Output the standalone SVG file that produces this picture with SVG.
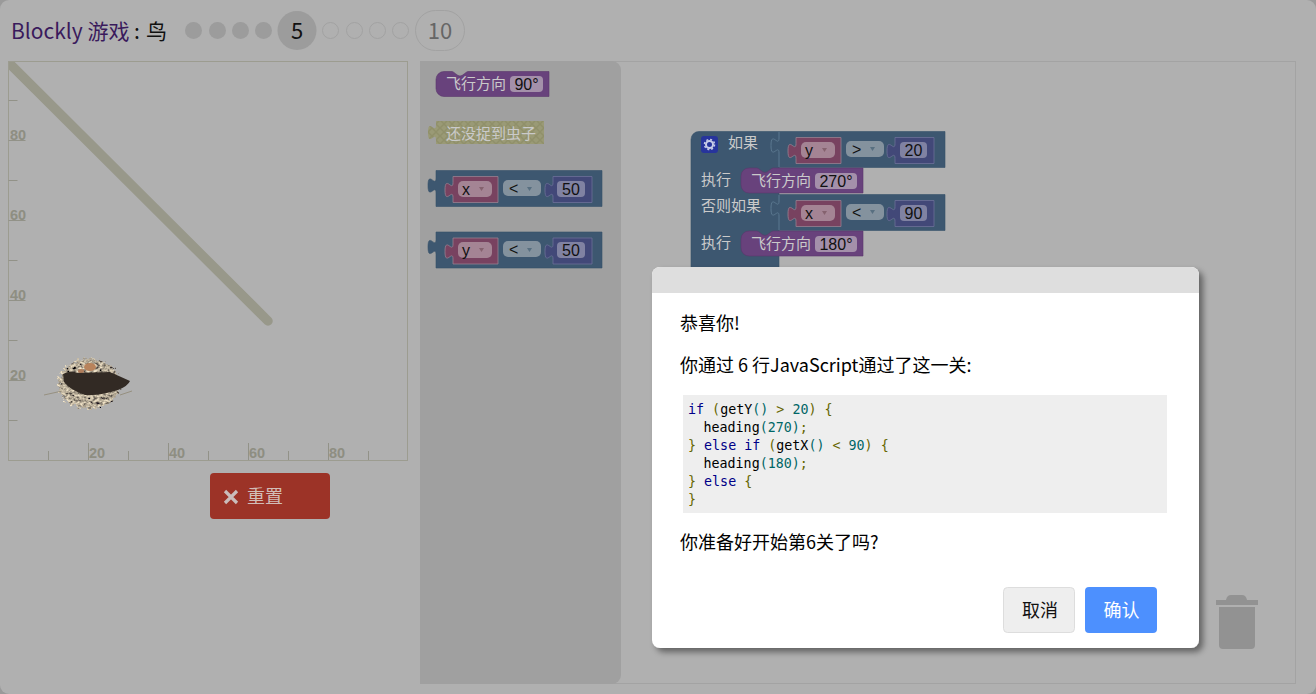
<svg xmlns="http://www.w3.org/2000/svg" width="1316" height="694" viewBox="0 0 1316 694">
<defs>
<style>
text{font-family:"Liberation Sans","Noto Sans CJK SC",sans-serif}
.t{font-family:"Noto Sans CJK SC","Liberation Sans",sans-serif}
.ax{font-size:14.500px;font-weight:bold;fill:#8e8e82;font-family:"Liberation Sans",sans-serif}
.tick{stroke:#929288;stroke-width:1;fill:none}
.done{fill:#9c9c9c}
.todo{fill:none;stroke:#a2a2a2}
.lbl{font-size:15px;fill:#cacaca;font-family:"Noto Sans CJK SC",sans-serif}
.val{font-size:16px;fill:#111;text-anchor:middle}
.sym{font-size:16px;fill:#111}
.logic{fill:#3d5770;stroke:#38526a;stroke-width:.6}
.var{fill:#784260;stroke:#988090;stroke-width:.8}
.num{fill:#424878;stroke:#6c7098;stroke-width:.8}
.act{fill:#68427c;stroke:#5a386c;stroke-width:.6}
.fv{fill:#a490aa}
.dd1{fill:#a48494}
.dd2{fill:#84929e}
.dd3{fill:#8082a2}
.arr{fill:#85626f}
.arr2{fill:#586f80}
.code{font-family:"DejaVu Sans Mono","Liberation Mono",monospace;font-size:13.333px;fill:#000}
.kw{fill:#000088}.n{fill:#006666}.p{fill:#666600}
.msg{font-family:"Noto Sans CJK SC","Liberation Sans",sans-serif;font-size:18px;fill:#000}
</style>
<pattern id="hatch" width="8" height="8" patternUnits="userSpaceOnUse">
<rect width="8" height="8" fill="#9a9a76"/>
<path d="M0 0L8 8M8 0L0 8" stroke="#90906a" stroke-width="1.500"/>
</pattern>
<filter id="sh" x="-5%" y="-5%" width="112%" height="112%"><feDropShadow dx="4" dy="4" stdDeviation="3" flood-color="#000" flood-opacity=".45"/></filter>
<filter id="nest" x="-30%" y="-30%" width="160%" height="160%">
<feTurbulence type="fractalNoise" baseFrequency=".3 .4" numOctaves="2" seed="7" result="nz"/>
<feDisplacementMap in="SourceGraphic" in2="nz" scale="9" xChannelSelector="R" yChannelSelector="G" result="d"/>
<feColorMatrix in="nz" type="matrix" values="1.700 0 0 0 -.38  1.500 0 0 0 -.34  1.100 0 0 0 -.24  0 0 0 0 1" result="c"/>
<feComposite in="c" in2="d" operator="in"/>
</filter>
<clipPath id="dispclip"><rect x="9" y="62" width="398" height="398"/></clipPath>
</defs>
<rect width="1316" height="694" fill="#9a9a9a"/>
<rect width="1316" height="694" rx="9" fill="#b0b0b0"/>

<g id="title">
<text x="11" y="39" font-size="21" fill="#3a1a5c" class="t">Blockly 游戏</text>
<text x="134" y="39" font-size="21" fill="#111" class="t">:</text>
<text x="146" y="39" font-size="21" fill="#111" class="t">鸟</text>
</g>
<g id="levels">
<circle class="done" cx="193.500" cy="30.500" r="8.500"/>
<circle class="done" cx="217.500" cy="30.500" r="8.500"/>
<circle class="done" cx="240.500" cy="30.500" r="8.500"/>
<circle class="done" cx="263.500" cy="30.500" r="8.500"/>
<circle cx="297" cy="30.500" r="19.500" fill="#9c9c9c"/>
<text x="297" y="39" font-size="22" fill="#111" text-anchor="middle" class="t">5</text>
<circle class="todo" cx="330.500" cy="30.500" r="8"/>
<circle class="todo" cx="354.500" cy="30.500" r="8"/>
<circle class="todo" cx="377.500" cy="30.500" r="8"/>
<circle class="todo" cx="400.500" cy="30.500" r="8"/>
<rect class="todo" x="415.500" y="10.500" width="49" height="40" rx="20"/>
<text x="440" y="39" font-size="22" fill="#666" text-anchor="middle" class="t">10</text>
</g>

<g id="display">
<rect x="8.500" y="61.500" width="399" height="399" fill="#b0b0b0" stroke="#9c9c90"/>
<path class="tick" d="M8.500 100.500h9M8.500 180.500h9M8.500 260.500h9M8.500 340.500h9M8.500 420.500h9M8.500 140.500h17M8.500 220.500h17M8.500 300.500h17M8.500 380.500h17M48.500 451v9M128.500 451v9M208.500 451v9M288.500 451v9M368.500 451v9M88.500 443v17M168.500 443v17M248.500 443v17M328.500 443v17"/>
<text class="ax" x="10" y="140">80</text>
<text class="ax" x="10" y="220">60</text>
<text class="ax" x="10" y="300">40</text>
<text class="ax" x="10" y="380">20</text>
<text class="ax" x="89" y="458">20</text>
<text class="ax" x="169" y="458">40</text>
<text class="ax" x="249" y="458">60</text>
<text class="ax" x="329" y="458">80</text>
<path d="M4 58L268 321" stroke="#98988a" stroke-width="9.500" stroke-linecap="round" fill="none" clip-path="url(#dispclip)"/>
<g id="bird">
<ellipse cx="89" cy="384" rx="31" ry="25" fill="#000" filter="url(#nest)"/>
<path d="M44 395L62 391M120 395L132 391" stroke="#8f8874" stroke-width=".8" fill="none"/>
<ellipse cx="90" cy="367" rx="6" ry="4" fill="#b8835c"/>
<ellipse cx="81" cy="371" rx="3" ry="2" fill="#b07e5c"/>
<path d="M63 374Q70 370 78 373L110 372L130 381Q128 386 118 390Q100 396 85 395Q70 390 64 382Z" fill="#322a24"/>
</g>
</g>

<g id="reset">
<rect x="210" y="473" width="120" height="46" rx="4" fill="#9c3327"/>
<path d="M225 491L237 503M237 491L225 503" stroke="#cabdbb" stroke-width="3.200" fill="none"/>
<text x="247" y="503" font-size="18" fill="#d2bdb8" class="t">重置</text>
</g>

<g id="workspace">
<rect x="420.500" y="61.500" width="875" height="622" fill="#b0b0b0" stroke="#a3a3a3"/>
<path d="M420 61H612a9 9 0 0 1 9 9V675a9 9 0 0 1-9 9H420Z" fill="#a0a0a0"/>
</g>

<g id="trash" fill="#929292">
<path d="M1216 600h10q1-5 5-5h11q4 0 5 5h11v5h-42Z"/>
<path d="M1219 607h36v38a4 4 0 0 1-4 4h-28a4 4 0 0 1-4-4Z"/>
</g>

<g id="flyout-heading">
<path class="act" d="M444 71.500h8c2 0 5 4.500 8 4.500s6-4.500 8-4.500h81v25h-105a8 8 0 0 1-8-8v-9a8 8 0 0 1 8-8Z"/>
<text class="lbl" x="446" y="89">飞行方向</text>
<rect class="fv" x="510" y="76" width="33" height="16" rx="4"/>
<text class="val" x="526.500" y="90">90°</text>
</g>
<g id="flyout-nobug">
<path d="M436 121h108v23h-108v-4c0-10-8 8-8-7.500s8 2.500 8-7.500Z" fill="url(#hatch)"/>
<text class="lbl" x="446" y="139">还没捉到虫子</text>
</g>
<g id="flyout-x">
<path class="logic" d="M436 170.500h166v36h-166v-13.500c0-10-8 8-8-7.500s8 2.500 8-7.500Z"/>
<path class="var" d="M453 176.500h45v26h-45v-5c0-10-8 8-8-7.500s8 2.500 8-7.500Z"/>
<rect class="dd1" x="458" y="181" width="34" height="16" rx="5"/>
<text class="sym" x="462" y="195">x</text><path class="arr" d="M479 187h5l-2.500 4Z"/>
<rect class="dd2" x="503" y="180" width="38" height="16" rx="5"/>
<text class="sym" x="509" y="194">&lt;</text><path class="arr2" d="M527 187h5l-2.500 4Z"/>
<path class="num" d="M553 176.500h39v26h-39v-5c0-10-8 8-8-7.500s8 2.500 8-7.500Z"/>
<rect class="dd3" x="557" y="181" width="28" height="16" rx="4"/>
<text class="val" x="571" y="195">50</text>
</g>
<g id="flyout-y">
<path class="logic" d="M436 232h166v36h-166v-13.500c0-10-8 8-8-7.500s8 2.500 8-7.500Z"/>
<path class="var" d="M453 238h45v26h-45v-5c0-10-8 8-8-7.500s8 2.500 8-7.500Z"/>
<rect class="dd1" x="458" y="242" width="34" height="16" rx="5"/>
<text class="sym" x="462" y="256">y</text><path class="arr" d="M479 248h5l-2.500 4Z"/>
<rect class="dd2" x="503" y="241" width="38" height="16" rx="5"/>
<text class="sym" x="509" y="255">&lt;</text><path class="arr2" d="M527 248h5l-2.500 4Z"/>
<path class="num" d="M553 238h39v26h-39v-5c0-10-8 8-8-7.500s8 2.500 8-7.500Z"/>
<rect class="dd3" x="557" y="242" width="28" height="16" rx="4"/>
<text class="val" x="571" y="256">50</text>
</g>

<g id="if-block">
<path class="logic" d="M699 131.500h246v36h-166v27h166v36h-166v40h-88v-131a8 8 0 0 1 8-8Z"/>
<path d="M779 132v6M779 195v6M779 153v14M779 216v14M779 138c0 10-8-8-8 7.500s8-2.500 8 7.500M779 201c0 10-8-8-8 7.500s8-2.500 8 7.500" stroke="#5b7890" stroke-width="1" fill="none"/>
<rect x="701" y="136" width="17" height="17" rx="3" fill="#27349c"/>
<circle cx="709.500" cy="144.500" r="3.500" fill="none" stroke="#c8cce8" stroke-width="2"/>
<circle cx="709.500" cy="144.500" r="5" fill="none" stroke="#c8cce8" stroke-width="1.500" stroke-dasharray="2 1.930"/>
<text class="lbl" x="728" y="148">如果</text>
<text class="lbl" x="701" y="185">执行</text>
<text class="lbl" x="701" y="211">否则如果</text>
<text class="lbl" x="701" y="248">执行</text>
</g>
<g id="cond-1">
<path class="var" d="M796 137.500h45v26h-45v-5c0-10-8 8-8-7.500s8 2.500 8-7.500Z"/>
<rect class="dd1" x="801" y="142" width="34" height="16" rx="5"/>
<text class="sym" x="805" y="156">y</text><path class="arr" d="M822 148h5l-2.500 4Z"/>
<rect class="dd2" x="846" y="141" width="38" height="16" rx="5"/>
<text class="sym" x="852" y="155">&gt;</text><path class="arr2" d="M870 147h5l-2.500 4Z"/>
<path class="num" d="M895 137.500h39v26h-39v-5c0-10-8 8-8-7.500s8 2.500 8-7.500Z"/>
<rect class="dd3" x="900" y="142" width="27" height="16" rx="4"/>
<text class="val" x="913.500" y="156">20</text>
</g>
<g id="heading-270">
<path class="act" d="M749 168h8c2 0 5 4.500 8 4.500s6-4.500 8-4.500h90v25h-114a8 8 0 0 1-8-8v-9a8 8 0 0 1 8-8Z"/>
<text class="lbl" x="751" y="186">飞行方向</text>
<rect class="fv" x="815" y="173" width="42" height="16" rx="4"/>
<text class="val" x="836" y="187">270°</text>
</g>
<g id="cond-2">
<path class="var" d="M796 200.500h45v26h-45v-5c0-10-8 8-8-7.500s8 2.500 8-7.500Z"/>
<rect class="dd1" x="801" y="205" width="34" height="16" rx="5"/>
<text class="sym" x="805" y="219">x</text><path class="arr" d="M822 211h5l-2.500 4Z"/>
<rect class="dd2" x="846" y="204" width="38" height="16" rx="5"/>
<text class="sym" x="852" y="218">&lt;</text><path class="arr2" d="M870 210h5l-2.500 4Z"/>
<path class="num" d="M895 200.500h39v26h-39v-5c0-10-8 8-8-7.500s8 2.500 8-7.500Z"/>
<rect class="dd3" x="900" y="205" width="27" height="16" rx="4"/>
<text class="val" x="913.500" y="219">90</text>
</g>
<g id="heading-180">
<path class="act" d="M749 231h8c2 0 5 4.500 8 4.500s6-4.500 8-4.500h90v25h-114a8 8 0 0 1-8-8v-9a8 8 0 0 1 8-8Z"/>
<text class="lbl" x="751" y="249">飞行方向</text>
<rect class="fv" x="815" y="236" width="42" height="16" rx="4"/>
<text class="val" x="836" y="250">180°</text>
</g>

<g id="dialog">
<rect x="652" y="267" width="547" height="381" rx="8" fill="#fff" filter="url(#sh)"/>
<path d="M652 293v-18a8 8 0 0 1 8-8h531a8 8 0 0 1 8 8v18Z" fill="#dedede"/>
<text class="msg" x="680" y="330">恭喜你!</text>
<text class="msg" x="680" y="372">你通过 6 行JavaScript通过了这一关:</text>
<rect x="683" y="395" width="484" height="118" fill="#eeeeee"/>
<text class="code" xml:space="preserve" y="414"><tspan x="688" class="kw">if</tspan> <tspan class="p">(</tspan>getY<tspan class="n">()</tspan><tspan class="p"> &gt; </tspan><tspan class="n">20</tspan><tspan class="p">) {</tspan></text>
<text class="code" xml:space="preserve" y="432"><tspan x="703.500">heading</tspan><tspan class="n">(270)</tspan><tspan class="p">;</tspan></text>
<text class="code" xml:space="preserve" y="450"><tspan x="688" class="p">} </tspan><tspan class="kw">else if</tspan> <tspan class="p">(</tspan>getX<tspan class="n">()</tspan><tspan class="p"> &lt; </tspan><tspan class="n">90</tspan><tspan class="p">) {</tspan></text>
<text class="code" xml:space="preserve" y="468"><tspan x="703.500">heading</tspan><tspan class="n">(180)</tspan><tspan class="p">;</tspan></text>
<text class="code" xml:space="preserve" y="486"><tspan x="688" class="p">} </tspan><tspan class="kw">else</tspan><tspan class="p"> {</tspan></text>
<text class="code" xml:space="preserve" y="504"><tspan x="688" class="p">}</tspan></text>
<text class="msg" x="680" y="549">你准备好开始第6关了吗?</text>
</g>
<g id="btn-cancel">
<rect x="1003.500" y="587.500" width="71" height="45" rx="4" fill="#eeeeee" stroke="#dddddd"/>
<text x="1040" y="617" font-size="18" fill="#111" text-anchor="middle" class="t">取消</text>
</g>
<g id="btn-ok">
<rect x="1085" y="587" width="72" height="46" rx="4" fill="#4d90fe"/>
<text x="1121.500" y="617" font-size="18" fill="#fff" text-anchor="middle" class="t">确认</text>
</g>
</svg>
